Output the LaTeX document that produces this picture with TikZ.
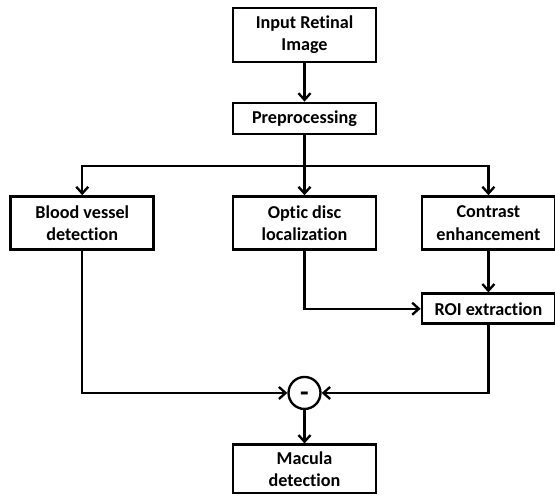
\documentclass[tikz,border=0pt]{standalone}
\usepackage{fontspec}
\setmainfont{Carlito}[Ligatures=NoCommon]
\usetikzlibrary{positioning,arrows.meta}

\begin{document}
\begin{tikzpicture}[
  node distance=1.2cm and 2.34cm,
  block/.style={rectangle, draw, line width=2.2pt, minimum width=4.29cm, minimum height=1.59cm, align=center, inner sep=2pt, font=\fontsize{15.5}{19}\selectfont\bfseries},
  arr/.style={-{Straight Barb[length=2mm,width=3.6mm]}, line width=2pt}]
\useasboundingbox (0,0) rectangle (16.65,-14.88);
\node[block, minimum height=1.62cm] (input) at (9.135,-1.05) {Input Retinal\\Image};
\node[block, minimum height=0.93cm, below=1.15cm of input] (pre) {Preprocessing};
\node[block, below=1.8cm of pre] (optic) {Optic disc\\localization};
\node[block, left=2.3cm of optic] (blood) {Blood vessel\\detection};
\node[block, minimum width=3.99cm, right=1.3cm of optic] (contrast) {Contrast\\enhancement};
\node[block, minimum width=3.99cm, minimum height=0.9cm, below=1.25cm of contrast] (roi) {ROI extraction};
\node[circle, draw, line width=2pt, minimum size=0.96cm, inner sep=0pt, text height=14pt, text depth=0pt, font=\fontsize{24}{24}\selectfont\bfseries, below=3.75cm of optic] (minus) {-};
\node[block, minimum height=1.45cm, below=1.0cm of minus] (macula) {Macula\\detection};
\coordinate[below=0.93cm of pre] (split);
\draw[arr] (input) -- (pre);
\draw[arr] (pre) -- (optic);
\draw[arr] (split) -| (blood);
\draw[arr] (split) -| (contrast);
\draw[arr] (contrast) -- (roi);
\draw[arr] (optic) |- (roi);
\draw[arr] (blood) |- (minus);
\draw[arr] (roi) |- (minus);
\draw[arr] (minus) -- (macula);
\end{tikzpicture}
\end{document}
